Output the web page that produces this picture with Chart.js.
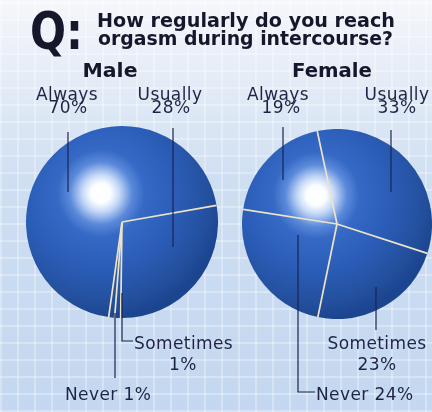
<!DOCTYPE html>
<html>
<head>
<meta charset="utf-8">
<script src="https://cdn.jsdelivr.net/npm/chart.js@4"></script>
<style>
  html, body { margin: 0; padding: 0; }
  body {
    width: 432px; height: 412px; overflow: hidden; position: relative;
    background:
      repeating-linear-gradient(90deg, rgba(255,255,255,0.3) 0 2px, transparent 2px 17px),
      repeating-linear-gradient(0deg, rgba(255,255,255,0.3) 0 2px, transparent 2px 17px),
      linear-gradient(180deg, #f5f7fb 0px, #e6edf7 70px, #cfdff2 180px, #c3d7f0 412px);
  }
  canvas { position: absolute; }
  #male { left: 26px; top: 126px; }
  #female { left: 242px; top: 129px; }
  svg { position: absolute; left: 0; top: 0; }
  .lbl { font-family: "DejaVu Sans", sans-serif; font-size: 17px; letter-spacing: 0.4px; fill: #1e2544; }
  .hd { font-family: "DejaVu Sans", sans-serif; font-weight: bold; fill: #17172c; }
</style>
</head>
<body>
<canvas id="male" width="192" height="192"></canvas>
<canvas id="female" width="190" height="190"></canvas>
<svg width="432" height="412">
  <text class="hd" x="30" y="49" font-size="52" textLength="53" lengthAdjust="spacingAndGlyphs">Q:</text>
  <text class="hd" x="97" y="27" font-size="19" textLength="298" lengthAdjust="spacingAndGlyphs">How regularly do you reach</text>
  <text class="hd" x="98" y="45" font-size="19" textLength="295" lengthAdjust="spacingAndGlyphs">orgasm during intercourse?</text>
  <text class="hd" x="110" y="77" font-size="19" textLength="55" lengthAdjust="spacingAndGlyphs" text-anchor="middle">Male</text>
  <text class="hd" x="332" y="77" font-size="19" textLength="80" lengthAdjust="spacingAndGlyphs" text-anchor="middle">Female</text>

  <g stroke="#1b2450" stroke-width="1.2" fill="none">
    <line x1="68" y1="132" x2="68" y2="192"/>
    <line x1="173" y1="128" x2="173" y2="247"/>
    <polyline points="122,293 122,341 133,341"/>
    <line x1="115" y1="313" x2="115" y2="378"/>
    <line x1="283" y1="127" x2="283" y2="180"/>
    <line x1="391" y1="130" x2="391" y2="192"/>
    <line x1="376" y1="287" x2="376" y2="330"/>
    <polyline points="298,235 298,392 315,392"/>
  </g>

  <text class="lbl" x="67" y="100" text-anchor="middle">Always</text>
  <text class="lbl" x="68" y="113" text-anchor="middle">70%</text>
  <text class="lbl" x="170" y="100" text-anchor="middle">Usually</text>
  <text class="lbl" x="171" y="113" text-anchor="middle">28%</text>
  <text class="lbl" x="278" y="100" text-anchor="middle">Always</text>
  <text class="lbl" x="281" y="113" text-anchor="middle">19%</text>
  <text class="lbl" x="397" y="100" text-anchor="middle">Usually</text>
  <text class="lbl" x="397" y="113" text-anchor="middle">33%</text>

  <text class="lbl" x="134" y="349">Sometimes</text>
  <text class="lbl" x="183" y="370" text-anchor="middle">1%</text>
  <text class="lbl" x="65" y="400">Never 1%</text>
  <text class="lbl" x="377" y="349" text-anchor="middle">Sometimes</text>
  <text class="lbl" x="377" y="370" text-anchor="middle">23%</text>
  <text class="lbl" x="316" y="400">Never 24%</text>
</svg>

<script>
const categories = ['Usually', 'Sometimes', 'Never', 'Always'];
const maleValues = [28, 1, 1, 70];
const femaleValues = [33, 23, 24, 19];

// shiny blue ball fill, highlight up and left of centre
function ballFill(context) {
  const chart = context.chart;
  const area = chart.chartArea;
  if (!area) return '#2c5fb8';
  const cx = (area.left + area.right) / 2;
  const cy = (area.top + area.bottom) / 2;
  const r = Math.min(area.right - area.left, area.bottom - area.top) / 2;
  const hx = cx - 0.22 * r, hy = cy - 0.3 * r;
  const g = chart.ctx.createRadialGradient(hx, hy, 0, hx, hy, r * 1.3);
  g.addColorStop(0, '#ffffff');
  g.addColorStop(0.08, '#fcfdff');
  g.addColorStop(0.15, '#c4d8f7');
  g.addColorStop(0.25, '#5b8ada');
  g.addColorStop(0.35, '#3569c5');
  g.addColorStop(0.6, '#2b5db8');
  g.addColorStop(0.85, '#24519f');
  g.addColorStop(1, '#1c4590');
  return g;
}

// light lines between slices, no outer ring
const separators = {
  id: 'separators',
  afterDatasetsDraw(chart) {
    const ctx = chart.ctx;
    const meta = chart.getDatasetMeta(0);
    ctx.save();
    ctx.strokeStyle = '#ece4c8';
    ctx.lineWidth = 1.7;
    meta.data.forEach(arc => {
      const p = arc.getProps(['x', 'y', 'startAngle', 'outerRadius'], true);
      ctx.beginPath();
      ctx.moveTo(p.x, p.y);
      ctx.lineTo(p.x + p.outerRadius * Math.cos(p.startAngle), p.y + p.outerRadius * Math.sin(p.startAngle));
      ctx.stroke();
    });
    ctx.restore();
  }
};

function drawPie(id, values, rotation) {
  new Chart(document.getElementById(id), {
    type: 'pie',
    data: {
      labels: categories,
      datasets: [{
        data: values,
        backgroundColor: ballFill,
        borderWidth: 0
      }]
    },
    options: {
      responsive: false,
      animation: false,
      rotation: rotation,
      layout: { padding: 0 },
      plugins: {
        legend: { display: false },
        tooltip: { enabled: false }
      }
    },
    plugins: [separators]
  });
}

drawPie('male', maleValues, 80);
drawPie('female', femaleValues, -12);
</script>
</body>
</html>
